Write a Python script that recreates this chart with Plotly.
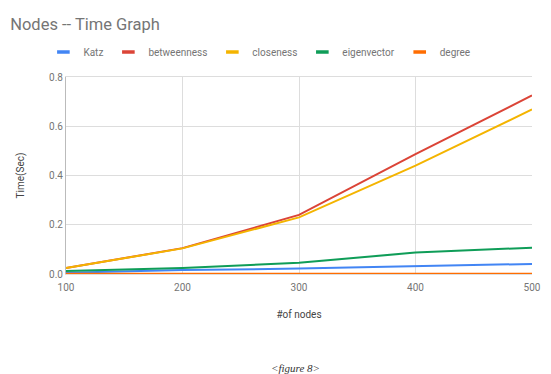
import plotly.graph_objects as go

nodes = [100, 200, 300, 400, 500]
katz = [0.005, 0.016, 0.022, 0.030, 0.041]
betweenness = [0.024, 0.105, 0.240, 0.487, 0.725]
closeness = [0.024, 0.104, 0.230, 0.440, 0.668]
eigenvector = [0.012, 0.024, 0.046, 0.087, 0.107]
degree = [0.001, 0.001, 0.001, 0.001, 0.001]

series = [
    ("Katz", katz, "#4285F4"),
    ("betweenness", betweenness, "#DB4437"),
    ("closeness", closeness, "#F4B400"),
    ("eigenvector", eigenvector, "#0F9D58"),
    ("degree", degree, "#FF6D01"),
]

fig = go.Figure()
for name, vals, col in series:
    fig.add_trace(go.Scatter(x=nodes, y=vals, name=name, mode="lines",
                             line=dict(color=col, width=2), showlegend=False))
# legend entries with short line swatches
for name, vals, col in series:
    fig.add_trace(go.Scatter(x=[None], y=[None], name=name, mode="markers",
                             marker=dict(symbol="line-ew", size=9,
                                         line=dict(color=col, width=3.5))))

fig.update_layout(
    width=543, height=366,
    margin=dict(l=58, r=10, t=69, b=100),
    paper_bgcolor="white", plot_bgcolor="white",
    font=dict(family="Roboto, Arial, sans-serif", color="#757575", size=10),
    title=dict(text="Nodes -- Time Graph", x=0.004, xanchor="left", y=0.957, yanchor="middle",
               font=dict(size=16.5, color="#757575")),
    legend=dict(orientation="h", x=0.415, xanchor="center", y=1.127, yanchor="middle",
                font=dict(size=10, color="#757575"), itemwidth=30, tracegroupgap=0),
    xaxis=dict(range=[100, 500], tickvals=nodes, showgrid=True, gridcolor="#dddddd",
               zeroline=False, showline=True, linecolor="#dddddd", mirror=True,
               ticks="outside", ticklen=4, tickcolor="rgba(0,0,0,0)",
               title=dict(text="#of nodes", font=dict(size=10, color="#444444"), standoff=18),
               tickfont=dict(size=10, color="#757575")),
    yaxis=dict(range=[0, 0.8], tickvals=[0, 0.2, 0.4, 0.6, 0.8], tickformat=".1f",
               showgrid=True, gridcolor="#dddddd", zeroline=False, showline=True,
               linecolor="#bbbbbb",
               title=dict(text="Time(Sec)", font=dict(size=10, color="#444444"), standoff=22),
               tickfont=dict(size=10, color="#757575")),
    annotations=[dict(text="<i>&lt;figure 8&gt;</i>", xref="paper", yref="paper",
                      x=0.493, y=-0.477, showarrow=False, yanchor="middle",
                      font=dict(family="Liberation Serif, serif", size=11, color="#333333"))],
)

fig.write_html("out.html")
